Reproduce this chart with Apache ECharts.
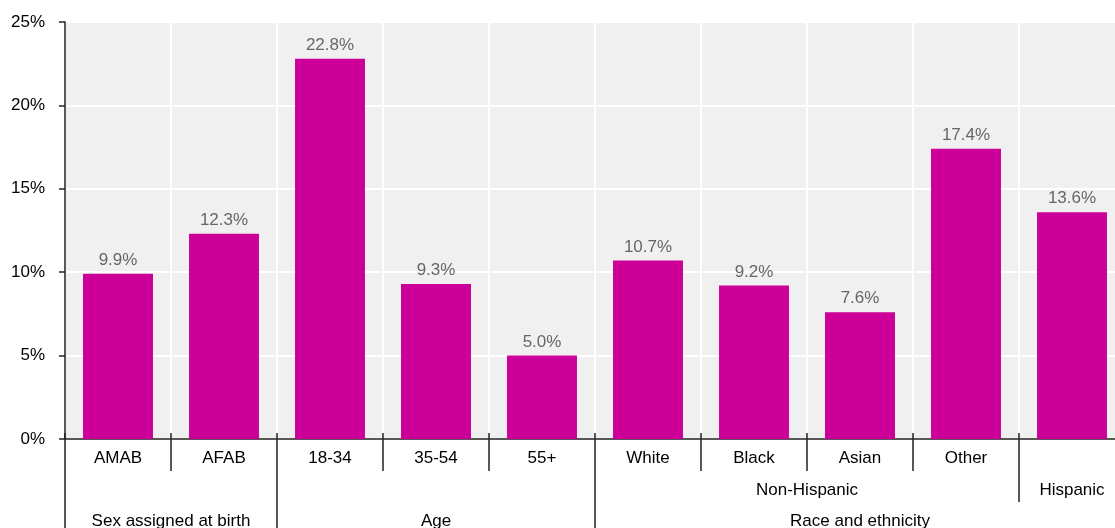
<!DOCTYPE html>
<html>
<head>
<meta charset="utf-8">
<script src="https://cdn.jsdelivr.net/npm/echarts@6/dist/echarts.min.js"></script>
<style>
  html, body { margin: 0; padding: 0; background: #fff; }
  #chart { width: 1115px; height: 528px; }
</style>
</head>
<body>
<div id="chart"></div>
<script>
// data
const categories = ['AMAB', 'AFAB', '18-34', '35-54', '55+', 'White', 'Black', 'Asian', 'Other', 'Hispanic'];
const values = [9.9, 12.3, 22.8, 9.3, 5.0, 10.7, 9.2, 7.6, 17.4, 13.6];
const subGroups = ['', 'Non-Hispanic', 'Hispanic'];
const subGroupSpans = [5, 4, 1];
const groups = ['Sex assigned at birth', 'Age', 'Race and ethnicity'];
const groupSpans = [2, 3, 5];

const font = 'Liberation Sans, Arial, sans-serif';
const ink = '#222';

// half-step axis: index 2*k is boundary k, odd indices are category centres
function halfStep(names, spans) {
  const labels = new Array(categories.length * 2 + 1).fill('');
  const bounds = [0];
  let start = 0;
  names.forEach((n, i) => {
    labels[start * 2 + spans[i]] = n;
    start += spans[i];
    bounds.push(start * 2);
  });
  return { labels, bounds };
}
const lvl2 = halfStep(subGroups, subGroupSpans);
const lvl3 = halfStep(groups, groupSpans);
const blanks = new Array(categories.length * 2 + 1).fill('').map((_, i) => 'h' + i);

function extraAxis(labels, bounds, len, margin) {
  return {
    type: 'category',
    position: 'bottom',
    boundaryGap: false,
    data: labels,
    axisLine: { show: false },
    axisTick: {
      show: true, length: len,
      interval: (i) => bounds.indexOf(i) >= 0,
      lineStyle: { color: ink, width: 1.5 }
    },
    axisLabel: {
      show: true, interval: 0, margin: margin,
      formatter: (v) => /^h\d+$/.test(v) ? '' : v,
      fontFamily: font, fontSize: 17, color: '#000'
    },
    splitLine: { show: false }
  };
}

const chart = echarts.init(document.getElementById('chart'));
chart.setOption({
  animation: false,
  grid: {
    left: 65, top: 22, width: 1060, height: 417,
    outerBoundsMode: 'none',
    show: true, backgroundColor: '#f0f0f0', borderWidth: 0
  },
  xAxis: [
    {
      type: 'category',
      data: categories,
      axisLine: { lineStyle: { color: ink, width: 1.5 } },
      axisTick: { show: true, inside: true, length: 6, interval: 0, lineStyle: { color: ink, width: 1.5 } },
      axisLabel: {
        interval: 0, margin: 11, fontFamily: font, fontSize: 17, color: '#000',
        // a category that is also its own sub-group is labelled one row down
        formatter: (v) => subGroups.indexOf(v) >= 0 ? '' : v
      },
      splitLine: { show: true, interval: 0, lineStyle: { color: '#fff', width: 2 } }
    },
    // level-1 separators below the axis
    extraAxis(blanks, blanks.map((_, i) => i).filter(i => i % 2 === 0), 32, 0),
    // level-2 labels and separators
    extraAxis(lvl2.labels, lvl2.bounds, 63, 43),
    // level-3 labels and separators
    extraAxis(lvl3.labels, lvl3.bounds, 110, 74)
  ],
  yAxis: {
    type: 'value',
    min: 0, max: 25, interval: 5,
    axisLine: { show: true, lineStyle: { color: ink, width: 1.5 } },
    axisTick: { show: true, length: 6, lineStyle: { color: ink, width: 1.5 } },
    axisLabel: { formatter: '{value}%', margin: 20, fontFamily: font, fontSize: 17, color: '#000' },
    splitLine: { show: true, lineStyle: { color: '#fff', width: 2 } }
  },
  series: [{
    type: 'bar',
    xAxisIndex: 0,
    data: values,
    barCategoryGap: '34%',
    itemStyle: { color: '#cc0099' },
    label: {
      show: true, position: 'top', distance: 5,
      formatter: (p) => p.value.toFixed(1) + '%',
      fontFamily: font, fontSize: 17, color: '#666'
    }
  }]
});
</script>
</body>
</html>
